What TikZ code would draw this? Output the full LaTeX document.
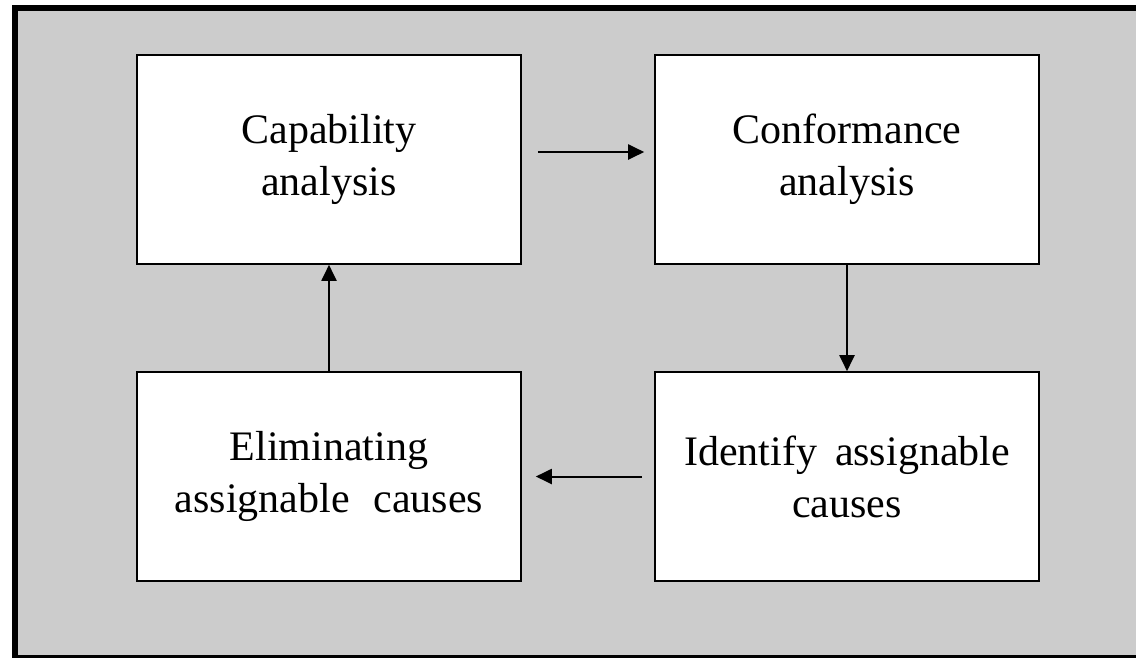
\documentclass[tikz,border=0pt]{standalone}
\usepackage{fontspec}
\setmainfont{Liberation Serif}
\usetikzlibrary{arrows.meta}
\definecolor{panel}{HTML}{CCCCCC}
\tikzset{
  stagebox/.style={draw=black, line width=1.6pt, fill=white,
    minimum width=384pt, minimum height=209pt, inner sep=0pt,
    align=center, font=\fontsize{42}{52}\selectfont},
  flow/.style={line width=2pt, -{Triangle[length=16pt,width=15pt]}}
}
\begin{document}
\begin{tikzpicture}[x=1pt,y=-1pt]
  \useasboundingbox (0,0) rectangle (1136,657);
  \clip (0,0) rectangle (1136,657);
  % framed grey panel, running past the right and bottom edges
  \draw[line width=6pt, fill=panel] (15,8) rectangle (1145,658);

  \node[stagebox] (cap)   at (329,159.5) {Capability\hspace{12pt}\\analysis};
  \node[stagebox] (conf)  at (847,159.5) {Conformance\\analysis};
  \node[stagebox] (elim)  at (329,476.5) {Eliminating\hspace{6pt}\\assignable\hspace{24pt}causes};
  \node[stagebox] (ident) at (847,476.5) {Identify\hspace{18pt}assignable\\causes};

  \draw[flow] ([xshift=16pt,yshift=7.5pt]cap.east) -- ([xshift=-10pt,yshift=7.5pt]conf.west);
  \draw[flow] (conf.south) -- (ident.north);
  \draw[flow] ([xshift=-12pt]ident.west) -- ([xshift=14pt]elim.east);
  \draw[flow] (elim.north) -- (cap.south);
\end{tikzpicture}
\end{document}
